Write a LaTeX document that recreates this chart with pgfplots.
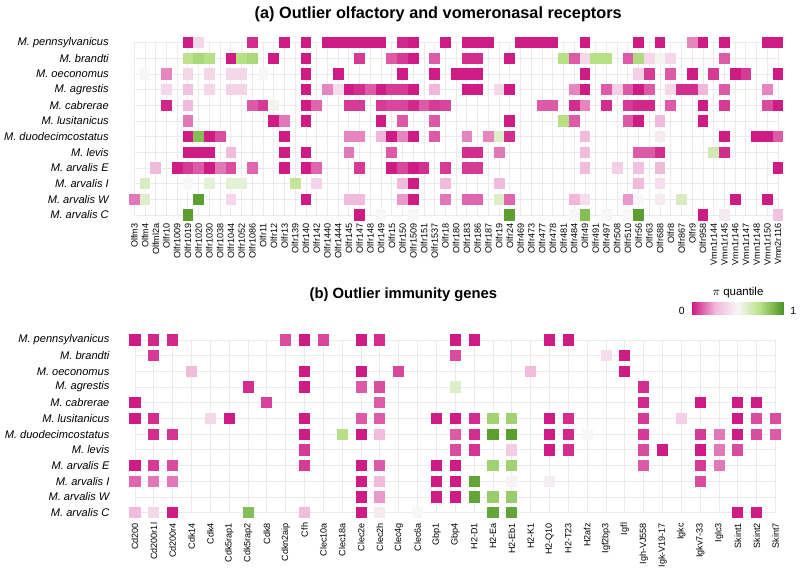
\documentclass[border=0pt]{standalone}
\usepackage{pgfplots}
\pgfplotsset{compat=1.18}
\usepackage{fontspec}
\setmainfont{Liberation Sans}
\pgfplotsset{colormap={piyg}{rgb255=(206,28,132) rgb255=(241,182,218) rgb255=(247,247,247) rgb255=(184,225,134) rgb255=(77,150,36)}}
\pgfdeclareplotmark{cellA}{\pgfpathrectangle{\pgfpoint{-4.03pt}{-4.24pt}}{\pgfpoint{8.06pt}{8.48pt}}\pgfusepathqfill}
\pgfdeclareplotmark{cellB}{\pgfpathrectangle{\pgfpoint{-4.15pt}{-4.24pt}}{\pgfpoint{8.3pt}{8.48pt}}\pgfusepathqfill}
\pgfplotsset{heat/.style={
  scale only axis, clip=false, y dir=reverse,
  ymin=1, ymax=12, ytick={1,...,12},
  yticklabels={M. pennsylvanicus, M. brandti, M. oeconomus, M. agrestis, M. cabrerae, M. lusitanicus, M. duodecimcostatus, M. levis, M. arvalis E, M. arvalis I, M. arvalis W, M. arvalis C},
  yticklabel style={anchor=east, inner sep=0pt, font=\fontsize{8.3}{9}\selectfont\itshape},
  yticklabel shift=19pt,
  xticklabel style={rotate=90, anchor=east, inner sep=0pt, font=\fontsize{6.8}{7}\selectfont},
  axis line style={draw=none}, major tick length=0pt, tick style={draw=none},
  xmajorgrids, ymajorgrids, grid style={color=black!8, line width=0.7pt},
  colormap name=piyg, point meta min=0, point meta max=1,
}}
\begin{document}
\begin{tikzpicture}
\useasboundingbox (0pt,0pt) rectangle (600pt,427.5pt);
% ---------------- (a)
\begin{axis}[heat, at={(100.73pt,266.25pt)}, anchor=south west,
  width=482.85pt, height=129.23pt, xmin=1, xmax=61, xtick={1,...,61},
  xticklabel shift=6.2pt,
  xticklabels={Olfm3,Olfm4,Olfml2a,Olfr10,Olfr1009,Olfr1019,Olfr1020,Olfr1030,Olfr1038,Olfr1044,Olfr1052,Olfr1086,Olfr11,Olfr12,Olfr13,Olfr139,Olfr140,Olfr142,Olfr1440,Olfr1444,Olfr145,Olfr147,Olfr148,Olfr149,Olfr15,Olfr150,Olfr1509,Olfr151,Olfr1537,Olfr18,Olfr180,Olfr183,Olfr186,Olfr187,Olfr19,Olfr24,Olfr469,Olfr473,Olfr477,Olfr478,Olfr481,Olfr484,Olfr49,Olfr491,Olfr497,Olfr508,Olfr510,Olfr56,Olfr63,Olfr688,Olfr8,Olfr867,Olfr9,Olfr958,Vmn1r144,Vmn1r145,Vmn1r146,Vmn1r147,Vmn1r148,Vmn1r150,Vmn2r116}]
\addplot[scatter, only marks, mark=cellA, point meta=explicit,
  scatter/use mapped color={draw=mapped color, fill=mapped color}]
  table[x=c, y=r, meta=v, row sep=\\] {
c r v\\
6 1 0\\ 7 1 .38\\ 12 1 .03\\ 15 1 0\\ 17 1 0\\ 19 1 0\\ 20 1 0\\ 21 1 0\\ 22 1 0\\ 23 1 0\\ 24 1 0\\ 26 1 .02\\ 27 1 0\\ 30 1 0\\ 32 1 0\\ 33 1 0\\ 34 1 0\\ 37 1 0\\ 38 1 0\\ 39 1 0\\ 40 1 0\\ 43 1 0\\ 48 1 0\\ 50 1 0\\ 53 1 .17\\ 54 1 0\\ 56 1 0\\ 60 1 0\\ 61 1 0\\
6 2 .73\\ 7 2 .78\\ 8 2 .75\\ 10 2 0\\ 11 2 .75\\ 12 2 .78\\ 14 2 0\\ 17 2 0\\ 22 2 .05\\ 25 2 .1\\ 26 2 .05\\ 27 2 0\\ 29 2 .1\\ 32 2 .03\\ 33 2 .03\\ 36 2 0\\ 41 2 .75\\ 42 2 .1\\ 43 2 .38\\ 44 2 .75\\ 45 2 .75\\ 47 2 .1\\ 48 2 .77\\ 49 2 .38\\ 50 2 .52\\ 51 2 .38\\ 56 2 .1\\
2 3 .5\\ 4 3 .17\\ 6 3 .38\\ 8 3 .38\\ 10 3 .38\\ 11 3 .38\\ 13 3 .5\\ 17 3 0\\ 20 3 0\\ 26 3 0\\ 29 3 0\\ 31 3 0\\ 32 3 0\\ 33 3 0\\ 43 3 0\\ 48 3 .35\\ 49 3 .05\\ 51 3 .1\\ 53 3 0\\ 55 3 .05\\ 57 3 0\\ 58 3 .05\\ 61 3 0\\
4 4 .38\\ 6 4 .3\\ 8 4 .38\\ 10 4 .36\\ 11 4 .36\\ 17 4 0\\ 19 4 .17\\ 20 4 .4\\ 21 4 0\\ 22 4 .03\\ 23 4 .1\\ 24 4 0\\ 25 4 .05\\ 26 4 .05\\ 27 4 0\\ 29 4 .25\\ 32 4 0\\ 33 4 0\\ 35 4 .38\\ 36 4 0\\ 42 4 .17\\ 43 4 0\\ 45 4 .1\\ 46 4 .35\\ 47 4 .1\\ 48 4 0\\ 49 4 .1\\ 51 4 .38\\ 52 4 .03\\ 53 4 .03\\ 54 4 .25\\ 56 4 .1\\ 60 4 .17\\
4 5 .02\\ 6 5 .27\\ 12 5 .1\\ 13 5 .05\\ 14 5 .52\\ 17 5 0\\ 18 5 .12\\ 21 5 .05\\ 22 5 .05\\ 24 5 .05\\ 25 5 .07\\ 26 5 .07\\ 27 5 .02\\ 28 5 .1\\ 29 5 .05\\ 30 5 .07\\ 39 5 .1\\ 40 5 .1\\ 42 5 .03\\ 43 5 .17\\ 45 5 .03\\ 47 5 .05\\ 48 5 .02\\ 49 5 .02\\ 51 5 .1\\ 54 5 0\\ 56 5 .05\\ 60 5 .08\\ 61 5 0\\
6 6 .15\\ 14 6 0\\ 15 6 .15\\ 17 6 0\\ 24 6 0\\ 26 6 .1\\ 29 6 .1\\ 36 6 0\\ 41 6 .75\\ 42 6 .1\\ 47 6 .1\\ 48 6 0\\ 50 6 .27\\ 54 6 0\\
6 7 0\\ 7 7 .87\\ 8 7 0\\ 9 7 .08\\ 15 7 0\\ 21 7 .17\\ 22 7 .17\\ 24 7 .25\\ 25 7 0\\ 26 7 .17\\ 27 7 0\\ 29 7 .1\\ 32 7 .17\\ 34 7 .17\\ 35 7 .6\\ 36 7 .03\\ 43 7 .27\\ 50 7 .45\\ 56 7 0\\ 59 7 0\\ 60 7 0\\ 61 7 .1\\
6 8 0\\ 7 8 0\\ 8 8 0\\ 10 8 .27\\ 15 8 0\\ 17 8 0\\ 21 8 .15\\ 25 8 .1\\ 32 8 .03\\ 33 8 .03\\ 35 8 .15\\ 43 8 .27\\ 48 8 .1\\ 49 8 .1\\ 50 8 .03\\ 55 8 .65\\ 56 8 .03\\
3 9 .27\\ 5 9 0\\ 6 9 .05\\ 7 9 .1\\ 8 9 0\\ 9 9 .15\\ 10 9 .08\\ 12 9 .12\\ 15 9 0\\ 17 9 0\\ 18 9 .12\\ 22 9 .05\\ 25 9 0\\ 26 9 .07\\ 27 9 0\\ 28 9 .03\\ 30 9 .05\\ 32 9 .05\\ 33 9 .05\\ 43 9 .27\\ 46 9 .35\\ 48 9 .3\\ 50 9 .27\\ 61 9 0\\
2 10 .62\\ 6 10 .5\\ 8 10 .57\\ 10 10 .57\\ 11 10 .57\\ 16 10 .7\\ 18 10 .37\\ 26 10 .27\\ 27 10 0\\ 30 10 .27\\ 35 10 .27\\ 48 10 .27\\ 50 10 .4\\
1 11 .15\\ 2 11 .6\\ 7 11 .97\\ 10 11 .38\\ 17 11 0\\ 21 11 .27\\ 22 11 .27\\ 26 11 .2\\ 27 11 0\\ 30 11 .15\\ 32 11 .12\\ 33 11 .12\\ 35 11 .6\\ 36 11 .12\\ 42 11 .25\\ 43 11 .4\\ 47 11 .2\\ 48 11 .5\\ 50 11 .45\\ 52 11 .62\\ 57 11 0\\ 60 11 0\\
6 12 .97\\ 22 12 0\\ 24 12 .5\\ 27 12 .5\\ 36 12 .97\\ 42 12 .5\\ 43 12 .87\\ 45 12 .5\\ 47 12 .5\\ 48 12 .97\\ 54 12 0\\ 56 12 .45\\ 61 12 .3\\
};
\end{axis}
% ---------------- (b)
\begin{axis}[heat, at={(101.25pt,42.98pt)}, anchor=south west,
  width=480.45pt, height=129.53pt, xmin=1, xmax=35, xtick={1,...,35},
  xticklabel shift=7.5pt,
  xticklabels={Cd200,Cd200r1l,Cd200r4,Cdk14,Cdk4,Cdk5rap1,Cdk5rap2,Cdk8,Cdkn2aip,Cfh,Clec10a,Clec18a,Clec2e,Clec2h,Clec4g,Clec6a,Gbp1,Gbp4,H2-D1,H2-Ea,H2-Eb1,H2-K1,H2-Q10,H2-T23,H2afz,Igf2bp3,Igfl,Igh-VJ558,Igk-V19-17,Igkc,Igkv7-33,Iglc3,Skint1,Skint2,Skint7}]
\addplot[scatter, only marks, mark=cellB, point meta=explicit,
  scatter/use mapped color={draw=mapped color, fill=mapped color}]
  table[x=c, y=r, meta=v, row sep=\\] {
c r v\\
1 1 0\\ 2 1 .02\\ 3 1 .02\\ 9 1 .08\\ 10 1 0\\ 11 1 .07\\ 13 1 0\\ 14 1 .03\\ 18 1 0\\ 19 1 0\\ 23 1 0\\ 24 1 0\\
2 2 .05\\ 18 2 .08\\ 26 2 .4\\ 27 2 0\\
4 3 .27\\ 10 3 0\\ 13 3 0\\ 15 3 .07\\ 22 3 .27\\ 27 3 0\\
7 4 .03\\ 10 4 0\\ 13 4 .1\\ 14 4 .08\\ 18 4 .6\\ 28 4 .03\\
1 5 0\\ 8 5 .06\\ 14 5 .1\\ 28 5 .02\\ 31 5 0\\ 33 5 0\\ 34 5 0\\
1 6 0\\ 2 6 .03\\ 5 6 .38\\ 6 6 0\\ 10 6 0\\ 13 6 .1\\ 14 6 .1\\ 17 6 0\\ 18 6 0\\ 19 6 .03\\ 20 6 .8\\ 21 6 .8\\ 23 6 0\\ 24 6 .03\\ 28 6 .05\\ 30 6 .35\\ 33 6 0\\ 34 6 .08\\ 35 6 .08\\
2 7 .03\\ 3 7 .04\\ 10 7 0\\ 12 7 .75\\ 13 7 0\\ 14 7 .27\\ 18 7 .1\\ 19 7 .03\\ 20 7 .97\\ 21 7 .97\\ 23 7 0\\ 24 7 .02\\ 25 7 .5\\ 28 7 .05\\ 31 7 .05\\ 32 7 .15\\ 33 7 0\\ 34 7 .08\\ 35 7 .1\\
10 8 .05\\ 18 8 .08\\ 19 8 .04\\ 21 8 .33\\ 23 8 0\\ 24 8 .03\\ 28 8 .08\\ 29 8 0\\ 31 8 0\\ 32 8 .15\\ 33 8 .08\\
1 9 0\\ 2 9 .05\\ 3 9 .08\\ 10 9 .05\\ 13 9 0\\ 14 9 .1\\ 17 9 0\\ 18 9 0\\ 20 9 .8\\ 21 9 .8\\ 28 9 .1\\ 31 9 .05\\ 32 9 .15\\
1 10 .12\\ 2 10 .15\\ 3 10 .15\\ 13 10 0\\ 14 10 .27\\ 17 10 0\\ 18 10 0\\ 19 10 .95\\ 21 10 .48\\ 23 10 .46\\ 31 10 .08\\
13 11 0\\ 14 11 .2\\ 17 11 0\\ 18 11 0\\ 19 11 .95\\ 20 11 .82\\ 21 11 .82\\
1 12 .27\\ 2 12 .38\\ 3 12 0\\ 7 12 .87\\ 10 12 .27\\ 13 12 0\\ 14 12 .45\\ 16 12 .5\\ 20 12 .95\\ 21 12 .95\\ 33 12 0\\ 34 12 0\\
};
\end{axis}
% ---------------- legend bar
\begin{axis}[at={(518.75pt,191.8pt)}, anchor=south west, scale only axis,
  width=68.75pt, height=9.4pt, hide axis, view={0}{90},
  xmin=0, xmax=1, ymin=0, ymax=1, colormap name=piyg, point meta min=0, point meta max=1]
\addplot3[surf, shader=interp, mesh/cols=5, point meta=x] coordinates {
(0,0,0) (0.25,0,0) (0.5,0,0) (0.75,0,0) (1,0,0)
(0,1,0) (0.25,1,0) (0.5,1,0) (0.75,1,0) (1,1,0)};
\end{axis}
\node[anchor=base, font=\fontsize{8.6}{10}\selectfont] at (553.5pt,205.5pt) {$\pi$ quantile};
\node[anchor=base, font=\fontsize{7.8}{9}\selectfont] at (511.3pt,191.8pt) {0};
\node[anchor=base, font=\fontsize{7.8}{9}\selectfont] at (595pt,191.8pt) {1};
% ---------------- titles
\node[anchor=base west, font=\bfseries\fontsize{12.2}{14}\selectfont] at (187.5pt,413.8pt) {(a) Outlier olfactory and vomeronasal receptors};
\node[anchor=base west, font=\bfseries\fontsize{11.1}{13}\selectfont] at (228.75pt,203.8pt) {(b) Outlier immunity genes};
\end{tikzpicture}
\end{document}
